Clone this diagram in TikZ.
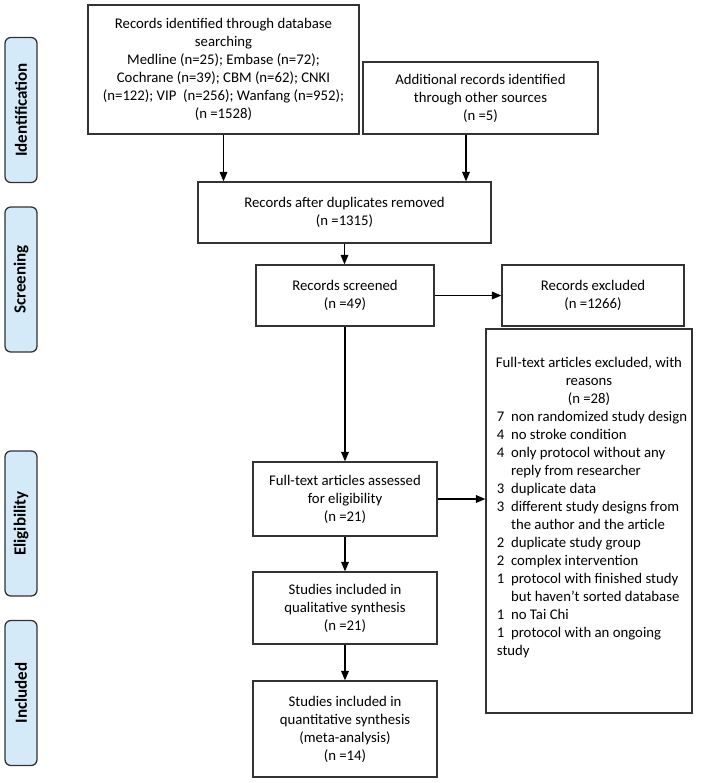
\documentclass[tikz,border=0pt]{standalone}
\usepackage{fontspec}
\setmainfont{Carlito}
\usepackage{tikz}
\usetikzlibrary{arrows.meta}
\usetikzlibrary{calc}
\usepackage{xcolor}

\definecolor{boxgray}{HTML}{333333}
\definecolor{phaseblue}{HTML}{D5EAF8}

\newdimen\pxu
\pxu=0.03cm

\tikzset{
  frame/.style={draw=boxgray, line width=1.1pt, inner sep=1pt,
    font=\fontsize{12.6}{15.4}\selectfont},
  box/.style={frame, align=center},
  phase/.style={draw=boxgray, line width=1.1pt, fill=phaseblue, rounded corners=5pt,
    rotate=90, minimum width=145\pxu, minimum height=32\pxu, inner sep=0pt,
    font=\fontsize{14.5}{16}\selectfont\bfseries},
  flow/.style={-{Triangle[length=8pt,width=6.5pt]}, line width=1.1pt, black},
}

\begin{document}
\begin{tikzpicture}[x=0.03cm, y=-0.03cm]

\useasboundingbox (0,0) rectangle (708,783);

% phases
\node[phase] (ident) at (21,110) {Identification};
\node[phase] (screen) at (21,279.5) {Screening};
\node[phase] (elig) at (21,523.5) {Eligibility};
\node[phase] (incl) at (21,693) {Included};

% boxes
\node[box, minimum width=271\pxu, minimum height=129\pxu] (dbsearch) at (223.5,69.5)
  {Records identified through database\\ searching\\ Medline (n=25); Embase (n=72);\\
   Cochrane (n=39); CBM (n=62); CNKI\\ (n=122); VIP\ \ (n=256); Wanfang (n=952);\\ (n =1528)};
\node[box, minimum width=235\pxu, minimum height=72\pxu] (othersrc) at (480.5,98)
  {Additional records identified\\ through other sources\\ (n =5)};
\node[box, minimum width=293\pxu, minimum height=61\pxu] (nodup) at (344.5,212.5)
  {Records after duplicates removed\\ (n =1315)};
\node[box, minimum width=178\pxu, minimum height=61\pxu] (screened) at (345,295.5)
  {Records screened\\ (n =49)};
\node[box, minimum width=182\pxu, minimum height=61\pxu] (recexcl) at (593,295.5)
  {Records excluded\\ (n =1266)};
\node[box, minimum width=184\pxu, minimum height=74\pxu] (assessed) at (345,499)
  {Full-text articles assessed\\ for eligibility\\ (n =21)};
\node[frame, minimum width=206\pxu, inner ysep=0pt, text height=38\pxu, text depth=346\pxu]
  (reasons) at (589,521)
  {\begin{tabular}[t]{@{\hspace{6\pxu}}l@{\hspace{0.45em}}l@{}}
   \multicolumn{2}{@{}c@{}}{Full-text articles excluded, with}\\
   \multicolumn{2}{@{}c@{}}{reasons}\\
   \multicolumn{2}{@{}c@{}}{(n =28)}\\
   7 & non randomized study design\\
   4 & no stroke condition\\
   4 & only protocol without any\\
     & reply from researcher\\
   3 & duplicate data\\
   3 & different study designs from\\
     & the author and the article\\
   2 & duplicate study group\\
   2 & complex intervention\\
   1 & protocol with finished study\\
     & but haven't sorted database\\
   1 & no Tai Chi\\
   1 & protocol with an ongoing\\
   \multicolumn{2}{@{\hspace{6\pxu}}l@{}}{study}
   \end{tabular}};
\node[box, minimum width=184\pxu, minimum height=72\pxu] (qualsyn) at (345,608)
  {Studies included in\\ qualitative synthesis\\ (n =21)};
\node[box, minimum width=184\pxu, minimum height=96\pxu] (quantsyn) at (345,729)
  {Studies included in\\ quantitative synthesis\\ (meta-analysis)\\ (n =14)};

% arrows
\draw[flow] (dbsearch.south) -- (dbsearch.south |- nodup.north);
\coordinate (otherout) at ($(othersrc.south)+(-14.5,0)$);
\draw[flow] (otherout) -- (otherout |- nodup.north);
\draw[flow] (nodup.south) -- (nodup.south |- screened.north);
\draw[flow] (screened.east) -- (recexcl.west);
\draw[flow] (screened.south) -- (assessed.north);
\draw[flow] (assessed.east) -- (assessed.east -| reasons.west);
\draw[flow] (assessed.south) -- (qualsyn.north);
\draw[flow] (qualsyn.south) -- (quantsyn.north);

\end{tikzpicture}
\end{document}
